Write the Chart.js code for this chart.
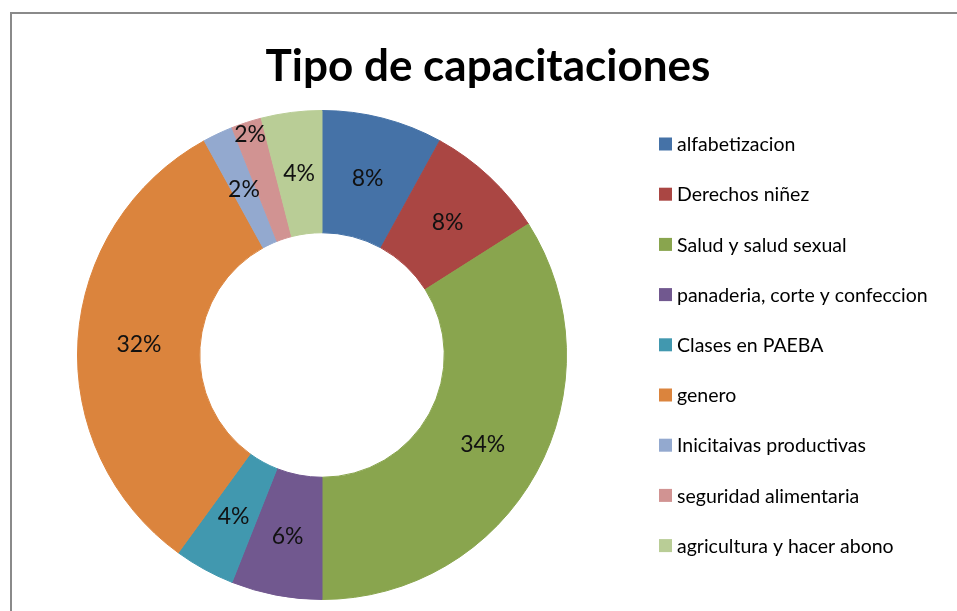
<!DOCTYPE html>
<html>
<head>
<meta charset="utf-8">
<script src="https://cdn.jsdelivr.net/npm/chart.js@4.4.0/dist/chart.umd.min.js"></script>
<style>
  html, body { margin: 0; padding: 0; background: #fff; overflow: hidden; }
  #wrap { position: relative; width: 957px; height: 611px; }
  #frame {
    position: absolute; left: 10px; top: 12px; width: 1000px; height: 700px;
    border: 2px solid #8a8a8a; box-sizing: border-box;
  }
  canvas { position: absolute; left: 0; top: 0; }
</style>
</head>
<body>
<div id="wrap">
  <div id="frame"></div>
  <canvas id="chart" width="957" height="611"></canvas>
</div>
<script>
// data
const titleText = "Tipo de capacitaciones";
const categories = [
    "alfabetizacion",
    "Derechos niñez",
    "Salud y salud sexual",
    "panaderia, corte y confeccion",
    "Clases en PAEBA",
    "genero",
    "Inicitaivas productivas",
    "seguridad alimentaria",
    "agricultura y hacer abono"
];
const percents = [8, 8, 34, 6, 4, 32, 2, 2, 4];
const colors = [
    "#4572a7", "#aa4643", "#89a54e", "#71588f", "#4198af",
    "#db843d", "#93a9cf", "#d19392", "#b9cd96"
];

const FONT = "Lato, 'Open Sans', sans-serif";

// percentage labels in the middle of the ring
const sliceLabels = {
    id: 'sliceLabels',
    afterDatasetsDraw(chart) {
        const ctx = chart.ctx;
        const meta = chart.getDatasetMeta(0);
        ctx.save();
        ctx.font = "23px " + FONT;
        ctx.fillStyle = "#111";
        ctx.textAlign = "center";
        ctx.textBaseline = "middle";
        meta.data.forEach((arc, i) => {
            const p = arc.getProps(['x', 'y', 'startAngle', 'endAngle', 'innerRadius', 'outerRadius'], true);
            const mid = (p.startAngle + p.endAngle) / 2;
            let r = (p.innerRadius + p.outerRadius) / 2;
            // Excel pushes the crowded small label outwards
            if (i === 7) r = p.outerRadius - 12;
            ctx.fillText(percents[i] + "%", p.x + Math.cos(mid) * r, p.y + Math.sin(mid) * r + 1);
        });
        ctx.restore();
    }
};

// title and legend drawn the way the spreadsheet lays them out
const sideLegend = {
    id: 'sideLegend',
    afterDraw(chart) {
        const ctx = chart.ctx;
        ctx.save();
        ctx.font = "bold 44px " + FONT;
        ctx.fillStyle = "#000";
        ctx.textAlign = "center";
        ctx.textBaseline = "middle";
        ctx.fillText(titleText, 488, 67);

        ctx.font = "19.5px " + FONT;
        ctx.textAlign = "left";
        chart.data.labels.forEach((lab, i) => {
            const y = 144 + i * 50.2;
            ctx.fillStyle = chart.data.datasets[0].backgroundColor[i];
            ctx.fillRect(659, y - 6.5, 13, 13);
            ctx.fillStyle = "#000";
            ctx.fillText(lab, 677, y + 1);
        });
        ctx.restore();
    }
};

new Chart(document.getElementById('chart'), {
    type: 'doughnut',
    data: {
        labels: categories,
        datasets: [{
            data: percents,
            backgroundColor: colors,
            borderColor: colors,
            borderWidth: 1
        }]
    },
    options: {
        responsive: false,
        animation: false,
        cutout: '50%',
        layout: { padding: { left: 77, right: 390, top: 110, bottom: 11 } },
        plugins: {
            legend: { display: false },
            title: { display: false },
            tooltip: { enabled: false }
        }
    },
    plugins: [sliceLabels, sideLegend]
});
</script>
</body>
</html>
